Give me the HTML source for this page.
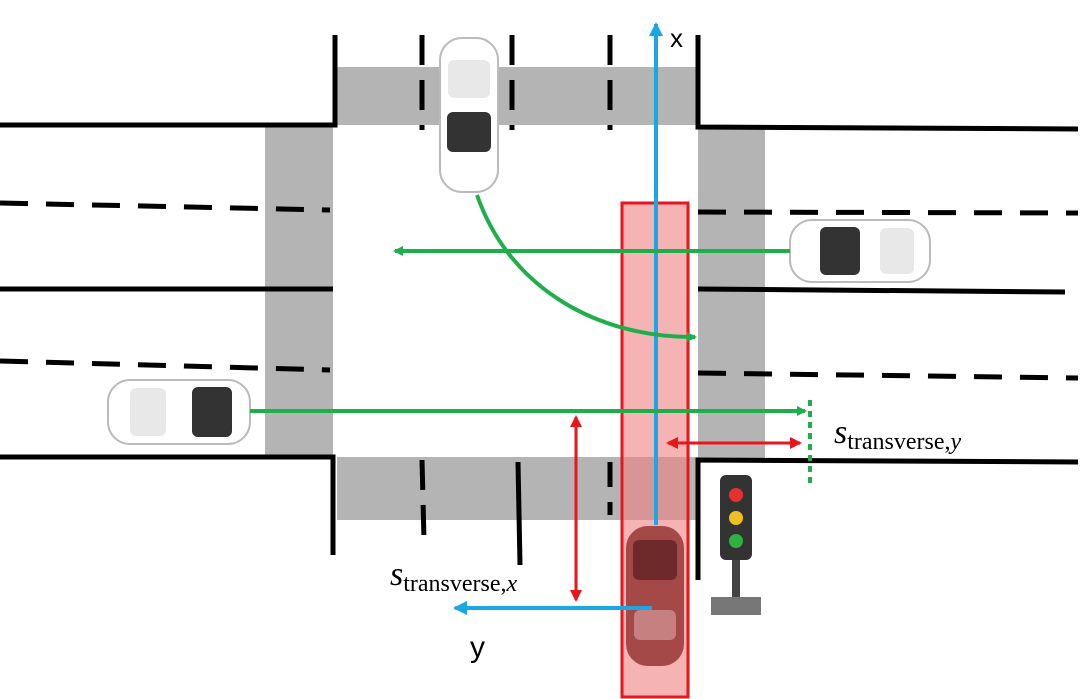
<!DOCTYPE html>
<html><head><meta charset="utf-8"><style>
html,body{margin:0;padding:0;background:#fff}
svg{display:block}
text{font-family:"Liberation Sans",sans-serif}
.m{font-family:"Liberation Serif",serif;font-style:italic}
</style></head><body>
<svg width="1081" height="699" viewBox="0 0 1081 699">
<defs>
<marker id="ag" markerWidth="10" markerHeight="10" refX="8" refY="5" orient="auto" markerUnits="userSpaceOnUse"><path d="M0,0 L10,5 L0,10 z" fill="#1fae4b"/></marker>
<marker id="ab" markerWidth="14" markerHeight="14" refX="12" refY="7" orient="auto" markerUnits="userSpaceOnUse"><path d="M0,0 L14,7 L0,14 z" fill="#1aa7e6"/></marker>
<marker id="ar" markerWidth="12" markerHeight="12" refX="10" refY="6" orient="auto-start-reverse" markerUnits="userSpaceOnUse"><path d="M0,0 L12,6 L0,12 z" fill="#e8151b"/></marker>
</defs>
<!-- crosswalks -->
<g fill="#b4b4b4">
<rect x="337" y="67" width="361" height="58"/>
<rect x="265" y="127" width="68" height="328"/>
<rect x="698" y="127" width="67" height="331"/>
<rect x="337" y="457" width="361" height="63"/>
</g>
<!-- road lines -->
<g stroke="#000" stroke-width="5" fill="none">
<polyline points="0,125 335,125 335,35"/>
<polyline points="698,35 698,127 1078,129"/>
<line x1="0" y1="289" x2="333" y2="289"/>
<polyline points="0,457 333,457 333,555"/>
<line x1="698" y1="289" x2="1065" y2="292"/>
<polyline points="1078,462 698,460 698,580"/>
<g stroke-dasharray="28,18">
<line x1="0" y1="203" x2="330" y2="210"/>
<line x1="0" y1="361" x2="330" y2="370"/>
<line x1="698" y1="212" x2="1078" y2="213"/>
<line x1="698" y1="373" x2="1078" y2="378"/>
</g>
<line x1="422" y1="35" x2="422" y2="130" stroke-dasharray="30,15"/>
<line x1="512" y1="35" x2="512" y2="130" stroke-dasharray="30,15"/>
<line x1="610" y1="35" x2="610" y2="130" stroke-dasharray="30,15"/>
<line x1="422" y1="460" x2="424" y2="540" stroke-dasharray="30,15"/>
<line x1="518" y1="462" x2="520" y2="565"/>
<line x1="610" y1="462" x2="610" y2="515" stroke-dasharray="25,15"/>
</g>
<!-- cars -->
<g>
<rect x="440" y="38" width="58" height="154" rx="22" fill="#fff" stroke="#bbb" stroke-width="2"/>
<rect x="448" y="60" width="42" height="38" rx="6" fill="#e8e8e8"/>
<rect x="447" y="112" width="44" height="40" rx="6" fill="#333"/>
</g>
<g>
<rect x="790" y="220" width="140" height="62" rx="22" fill="#fff" stroke="#bbb" stroke-width="2"/>
<rect x="820" y="227" width="40" height="48" rx="6" fill="#333"/>
<rect x="880" y="228" width="34" height="46" rx="6" fill="#e8e8e8"/>
</g>
<g>
<rect x="108" y="380" width="142" height="64" rx="22" fill="#fff" stroke="#bbb" stroke-width="2"/>
<rect x="192" y="387" width="40" height="50" rx="6" fill="#333"/>
<rect x="130" y="388" width="36" height="48" rx="6" fill="#e8e8e8"/>
</g>
<!-- red region -->
<rect x="622" y="203" width="66" height="494" fill="#f08080" fill-opacity="0.6" stroke="#e8151b" stroke-width="3"/>
<g>
<rect x="626" y="526" width="58" height="140" rx="22" fill="#a54848"/>
<rect x="633" y="540" width="44" height="40" rx="6" fill="#6e2a2a"/>
<rect x="634" y="610" width="42" height="30" rx="6" fill="#c68080"/>
</g>
<!-- axes -->
<line x1="656" y1="525" x2="656" y2="24" stroke="#1aa7e6" stroke-width="4" marker-end="url(#ab)"/>
<text x="670" y="47" font-size="26">x</text>
<line x1="652" y1="608" x2="455" y2="608" stroke="#1aa7e6" stroke-width="4" marker-end="url(#ab)"/>
<text x="470" y="657" font-size="30">y</text>
<!-- green paths -->
<g stroke="#1fae4b" stroke-width="4" fill="none">
<line x1="790" y1="251" x2="395" y2="251" marker-end="url(#ag)"/>
<path d="M477,195 C510,290 600,338 695,337" marker-end="url(#ag)"/>
<line x1="250" y1="411" x2="805" y2="411" marker-end="url(#ag)"/>
<line x1="810" y1="400" x2="810" y2="486" stroke-dasharray="6,5"/>
</g>
<!-- red distance arrows -->
<line x1="668" y1="443" x2="800" y2="443" stroke="#e8151b" stroke-width="3" marker-start="url(#ar)" marker-end="url(#ar)"/>
<line x1="576" y1="417" x2="576" y2="600" stroke="#e8151b" stroke-width="3" marker-start="url(#ar)" marker-end="url(#ar)"/>
<text x="834" y="443" font-size="34" class="m">s<tspan font-size="24" font-style="normal" dy="6">transverse,</tspan><tspan font-size="24" dy="0">y</tspan></text>
<text x="390" y="585" font-size="34" class="m">s<tspan font-size="24" font-style="normal" dy="6">transverse,</tspan><tspan font-size="24" dy="0">x</tspan></text>
<!-- traffic light -->
<g>
<rect x="732" y="555" width="8" height="45" fill="#444"/>
<rect x="711" y="597" width="50" height="18" fill="#777"/>
<rect x="720" y="475" width="32" height="85" rx="6" fill="#333"/>
<circle cx="736" cy="495" r="7" fill="#e53030"/>
<circle cx="736" cy="518" r="7" fill="#f0c020"/>
<circle cx="736" cy="541" r="7" fill="#30b040"/>
</g>
</svg>
</body></html>
